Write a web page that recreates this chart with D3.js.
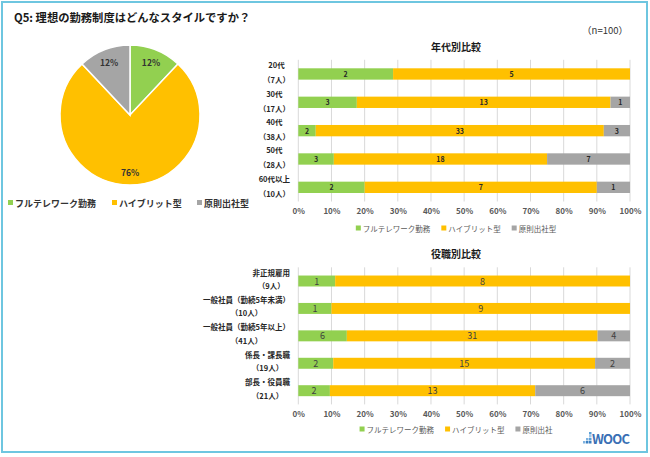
<!DOCTYPE html>
<html><head><meta charset="utf-8">
<script src="https://cdn.jsdelivr.net/npm/d3@7"></script>
<style>body{margin:0;background:#fff}svg{display:block}text{font-family:"Noto Sans CJK JP","Noto Sans",sans-serif}</style>
</head><body>
<svg id="c" width="650" height="457"></svg>
<script>
const seriesNames = ["フルテレワーク勤務","ハイブリット型","原則出社型"];
const seriesNames2 = ["フルテレワーク勤務","ハイブリット型","原則出社"];
const colors = ["#92D050","#FFC000","#A5A5A5"];
const pieValues = [12,76,12];
const ageCats = [["20代","（7人）"],["30代","（17人）"],["40代","（38人）"],["50代","（28人）"],["60代以上","（10人）"]];
const ageFull = [2,3,2,3,2];
const ageHybrid = [5,13,33,18,7];
const ageOffice = [0,1,3,7,1];
const roleCats = [["非正規雇用","（9人）"],["一般社員（勤続5年未満）","（10人）"],["一般社員（勤続5年以上）","（41人）"],["係長・課長職","（19人）"],["部長・役員職","（21人）"]];
const roleFull = [1,1,6,2,2];
const roleHybrid = [8,9,31,15,13];
const roleOffice = [0,0,4,2,6];
const tickLabels = ["0%","10%","20%","30%","40%","50%","60%","70%","80%","90%","100%"];

const svg = d3.select("#c");
svg.append("rect").attr("x",2).attr("y",2).attr("width",645).attr("height",450)
  .attr("fill","#fff").attr("stroke","#6ec6e0").attr("stroke-width",2);

svg.append("text").attr("x",14).attr("y",22).attr("font-size",11.3).attr("font-weight","bold")
  .attr("fill","#1a1a1a").text("Q5:  理想の勤務制度はどんなスタイルですか？");
svg.append("text").attr("x",628).attr("y",34).attr("text-anchor","end").attr("font-size",9.5)
  .attr("fill","#333").text("（n=100）");

// Pie
const pie = d3.pie().sort(null).value(d=>d)(pieValues);
const r = 70;
const arc = d3.arc().innerRadius(0).outerRadius(r);
const labelArc = d3.arc().innerRadius(57).outerRadius(57);
const pg = svg.append("g").attr("transform","translate(130,115)");
pg.selectAll("path").data(pie).join("path").attr("d",arc)
  .attr("fill",(d,i)=>colors[i]).attr("stroke","#fff").attr("stroke-width",1.5);
pg.selectAll("text").data(pie).join("text")
  .attr("transform",d=>`translate(${labelArc.centroid(d)})`)
  .attr("text-anchor","middle").attr("dominant-baseline","central")
  .attr("font-size",8.5).attr("font-weight","bold").attr("fill","#333")
  .text(d=>d.data+"%");

// pie legend
const plx = [8,112,197];
seriesNames.forEach((n,i)=>{
  svg.append("rect").attr("x",plx[i]).attr("y",200).attr("width",5).attr("height",5).attr("fill",colors[i]);
  svg.append("text").attr("x",plx[i]+7).attr("y",203).attr("dominant-baseline","central")
    .attr("font-size",9).attr("font-weight","bold").attr("fill","#333").text(n);
});

const x = d3.scaleLinear().domain([0,1]).range([298.3,630]);

function barChart(cfg){
  const {title,titleY,cats,full,hyb,off,top,bottom,tickY,legendY,legendNames,labelFont,labelBold,labelColor,catOff1,catOff2} = cfg;
  const y = d3.scaleBand().domain(d3.range(cats.length)).range([top,bottom]).paddingInner(0.6).paddingOuter(0.3);
  svg.append("text").attr("x",456).attr("y",titleY).attr("text-anchor","middle").attr("dominant-baseline","central")
    .attr("font-size",10).attr("font-weight","bold").attr("fill","#1a1a1a").text(title);
  const g = svg.append("g");
  g.selectAll("line.grid").data(d3.range(0,1.0001,0.1)).join("line")
    .attr("x1",d=>x(d)).attr("x2",d=>x(d)).attr("y1",top).attr("y2",bottom)
    .attr("stroke","#d9d9d9").attr("stroke-width",1);
  const axis = d3.axisBottom(x).tickValues(d3.range(0,1.0001,0.1)).tickFormat((d,i)=>tickLabels[i]).tickSize(0);
  const ag = g.append("g").attr("transform",`translate(0,${tickY})`).call(axis);
  ag.select(".domain").remove();
  ag.selectAll("text").attr("font-size",8).attr("font-weight","bold").attr("fill","#595959")
    .attr("font-family","'Noto Sans CJK JP',sans-serif").attr("dy","0.35em").attr("y",0);
  const rows = cats.map((c,i)=>{
    const vals=[full[i],hyb[i],off[i]]; const tot=d3.sum(vals);
    let acc=0; return vals.map((v,k)=>{const s=acc/tot; acc+=v; return {i,k,v,s,e:acc/tot};});
  }).flat().filter(d=>d.v>0);
  g.selectAll("rect.bar").data(rows).join("rect")
    .attr("x",d=>x(d.s)).attr("width",d=>x(d.e)-x(d.s))
    .attr("y",d=>y(d.i)).attr("height",y.bandwidth()).attr("fill",d=>colors[d.k]);
  g.selectAll("text.val").data(rows).join("text")
    .attr("x",d=>(x(d.s)+x(d.e))/2).attr("y",d=>y(d.i)+y.bandwidth()/2)
    .attr("text-anchor","middle").attr("dominant-baseline","central")
    .attr("font-size",labelFont).attr("font-weight",labelBold?"bold":"normal").attr("fill",labelColor)
    .text(d=>d.v);
  // category labels
  cats.forEach((c,i)=>{
    const cy = y(i)+y.bandwidth()/2;
    const t1 = g.append("text").attr("y",cy+catOff1).attr("text-anchor","middle").attr("dominant-baseline","central")
      .attr("font-size",7.5).attr("font-weight","bold").attr("fill","#262626").text(c[0]);
    const t2 = g.append("text").attr("y",cy+catOff2).attr("text-anchor","middle").attr("dominant-baseline","central")
      .attr("font-size",7.5).attr("font-weight","bold").attr("fill","#262626").text(c[1]);
    const w = Math.max(t1.node().getComputedTextLength(), t2.node().getComputedTextLength());
    const cx = 290 - w/2;
    t1.attr("x",cx); t2.attr("x",cx);
  });
  // legend
  const lg = svg.append("g");
  let lx = 0;
  legendNames.forEach((n,i)=>{
    const it = lg.append("g").attr("transform",`translate(${lx},0)`);
    it.append("rect").attr("x",0).attr("y",-2.5).attr("width",5).attr("height",5).attr("fill",colors[i]);
    const t = it.append("text").attr("x",7).attr("y",0).attr("dominant-baseline","central")
      .attr("font-size",7.5).attr("fill","#595959").text(n);
    lx += 7 + t.node().getComputedTextLength() + 11;
  });
  const totalW = lx - 11;
  lg.attr("transform",`translate(${456 - totalW/2},${legendY})`);
}

barChart({title:"年代別比較",titleY:46,cats:ageCats,full:ageFull,hyb:ageHybrid,off:ageOffice,
  top:59.8,bottom:201.5,tickY:211,legendY:228,legendNames:seriesNames,labelFont:7,labelBold:true,labelColor:"#262626",catOff1:-9.3,catOff2:5.8});
barChart({title:"役職別比較",titleY:253,cats:roleCats,full:roleFull,hyb:roleHybrid,off:roleOffice,
  top:267.3,bottom:404.4,tickY:414,legendY:429,legendNames:seriesNames2,labelFont:9,labelBold:false,labelColor:"#404040",catOff1:-9,catOff2:4.5});

// logo
const logo = svg.append("g").attr("transform","translate(583,436)");
[[0,8,"#7fb2df"],[3,8,"#3a7fc1"],[3,5,"#7fb2df"],[6,8,"#3a7fc1"],[6,5,"#5aa0d8"],[6,2,"#9cc6ea"],[6,-1,"#5aa0d8"]].forEach(s=>{
  logo.append("rect").attr("x",s[0]).attr("y",s[1]-3).attr("width",2.5).attr("height",2.5).attr("fill",s[2]);
});
logo.append("text").attr("x",9).attr("y",8).attr("font-size",13).attr("font-weight","bold")
  .attr("fill","#3a6fb5").attr("font-family","'DejaVu Sans',sans-serif").attr("textLength",38).text("WOOC");
</script>
</body></html>
